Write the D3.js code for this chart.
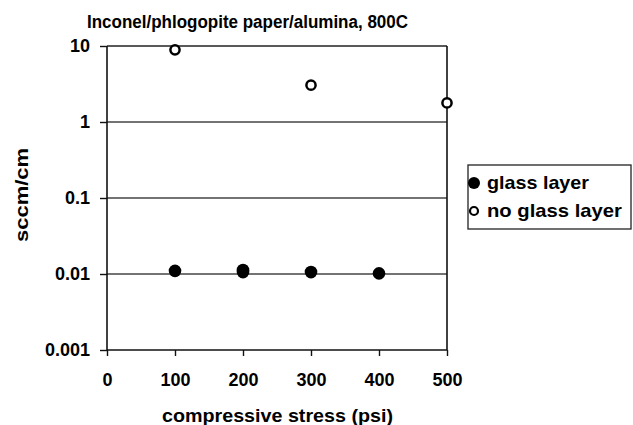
<!DOCTYPE html>
<html>
<head>
<meta charset="utf-8">
<script src="https://cdn.jsdelivr.net/npm/d3@7.9.0/dist/d3.min.js"></script>
<style>
  body { margin: 0; background: #fff; }
  text { font-family: "Liberation Sans", Arial, sans-serif; font-weight: bold; fill: #000; }
</style>
</head>
<body>
<svg id="chart" width="633" height="425"></svg>
<script>
/* ---------- data --------- */
const glassStress = [100, 200, 200, 300, 400];
const glassFlow   = [0.0110, 0.0113, 0.0106, 0.0106, 0.0102];
const noGlassStress = [100, 300, 500];
const noGlassFlow   = [8.9, 3.05, 1.78];
const xTicks = [0, 100, 200, 300, 400, 500];
const yTicks = [0.001, 0.01, 0.1, 1, 10];
const yTickLabels = ['0.001', '0.01', '0.1', '1', '10'];

/* ---------- layout --------- */
const area = { l: 107, r: 447, t: 46, b: 350 };
const svg = d3.select('#chart');

const x = d3.scaleLinear().domain([0, 500]).range([area.l, area.r]);
const y = d3.scaleLog().domain([0.001, 10]).range([area.b, area.t]);

// gridlines
svg.append('g').selectAll('line').data(yTicks.slice(1, 4)).join('line')
  .attr('x1', area.l).attr('x2', area.r)
  .attr('y1', d => y(d)).attr('y2', d => y(d))
  .attr('stroke', '#444').attr('stroke-width', 1.4);

// top line + right border
svg.append('line').attr('x1', area.l).attr('x2', area.r)
  .attr('y1', y(10)).attr('y2', y(10)).attr('stroke', '#222').attr('stroke-width', 1.5);
svg.append('line').attr('x1', area.r).attr('x2', area.r)
  .attr('y1', area.t).attr('y2', area.b).attr('stroke', '#111').attr('stroke-width', 1.6);

// axes
const xAxis = svg.append('g').attr('transform', `translate(0,${area.b})`)
  .call(d3.axisBottom(x).tickValues(xTicks).tickSize(6).tickPadding(17).tickFormat(d3.format('d')));
const yAxis = svg.append('g').attr('transform', `translate(${area.l},0)`)
  .call(d3.axisLeft(y).tickValues(yTicks).tickSize(7).tickPadding(10)
    .tickFormat(d => yTickLabels[yTicks.indexOf(d)]));

[xAxis, yAxis].forEach(a => {
  a.select('.domain').attr('stroke', '#111').attr('stroke-width', 1.6);
  a.selectAll('.tick line').attr('stroke', '#111').attr('stroke-width', 1.4);
  a.selectAll('text').style('font-size', '18px').style('font-family', '"Liberation Sans", Arial, sans-serif')
    .style('font-weight', 'bold').attr('fill', '#000');
});
xAxis.selectAll('.domain').attr('d', `M${area.l},0H${area.r}`);
yAxis.selectAll('.domain').attr('d', `M0,${area.b}V${area.t}`);

// points
svg.append('g').selectAll('circle').data(glassStress).join('circle')
  .attr('cx', d => x(d)).attr('cy', (d, i) => y(glassFlow[i]))
  .attr('r', 6.3).attr('fill', '#000');

svg.append('g').selectAll('circle').data(noGlassStress).join('circle')
  .attr('cx', d => x(d)).attr('cy', (d, i) => y(noGlassFlow[i]))
  .attr('r', 4.6).attr('fill', '#fff').attr('stroke', '#000').attr('stroke-width', 2.5);

// titles
svg.append('text').attr('x', 87).attr('y', 28)
  .attr('textLength', 321).attr('lengthAdjust', 'spacingAndGlyphs')
  .style('font-size', '18px').text('Inconel/phlogopite paper/alumina, 800C');
svg.append('text').attr('x', 162).attr('y', 422)
  .attr('textLength', 231).attr('lengthAdjust', 'spacingAndGlyphs')
  .style('font-size', '18px').text('compressive stress (psi)');
svg.append('text').attr('transform', `translate(28,242) rotate(-90)`)
  .attr('textLength', 94).attr('lengthAdjust', 'spacingAndGlyphs')
  .style('font-size', '18px').text('sccm/cm');

// legend
const lg = svg.append('g');
lg.append('rect').attr('x', 468).attr('y', 165).attr('width', 163).attr('height', 64)
  .attr('fill', '#fff').attr('stroke', '#222').attr('stroke-width', 1.3);
lg.append('circle').attr('cx', 474).attr('cy', 183).attr('r', 6).attr('fill', '#000');
lg.append('circle').attr('cx', 474).attr('cy', 211).attr('r', 4)
  .attr('fill', '#fff').attr('stroke', '#000').attr('stroke-width', 2.2);
lg.append('text').attr('x', 487).attr('y', 189)
  .attr('textLength', 102).attr('lengthAdjust', 'spacingAndGlyphs')
  .style('font-size', '19px').text('glass layer');
lg.append('text').attr('x', 487).attr('y', 217)
  .attr('textLength', 135).attr('lengthAdjust', 'spacingAndGlyphs')
  .style('font-size', '19px').text('no glass layer');
</script>
</body>
</html>
